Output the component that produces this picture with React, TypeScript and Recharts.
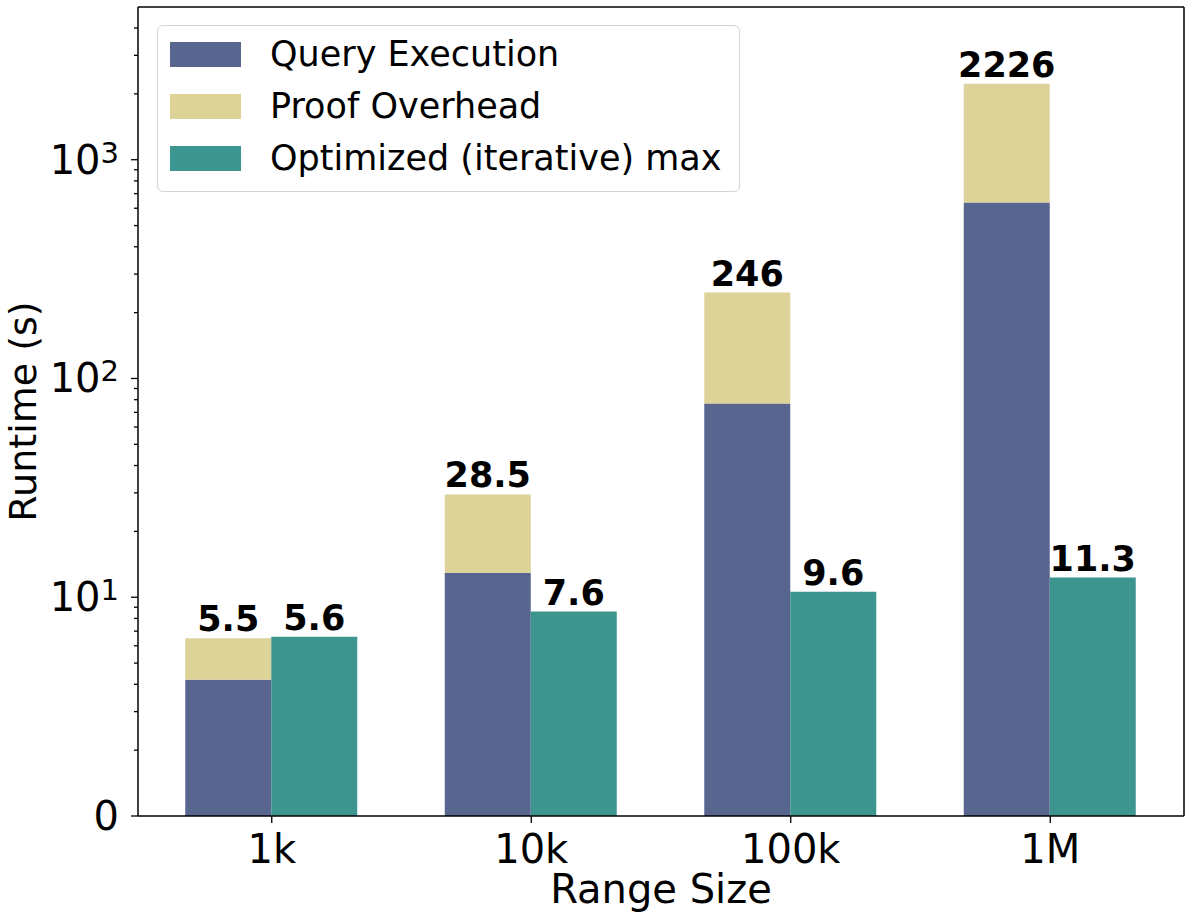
import React from "react";
import { BarChart, Bar, XAxis, YAxis, Legend, LabelList, Label } from "recharts";

// Runtime per range size, in seconds
const rangeSizes = ["1k", "10k", "100k", "1M"];
const queryExecution = [3.2, 11.9, 75.9, 637];
const totalWithProof = [5.5, 28.5, 246, 2226];
const optimizedMax = [5.6, 7.6, 9.6, 11.3];

// y axis is log(runtime + 1): the floor tick at 1 reads as 0
const majorTicks = [1, 10, 100, 1000];
const minorTicks = [2, 3, 4, 5, 6, 7, 8, 9, 20, 30, 40, 50, 60, 70, 80, 90, 200, 300, 400, 500, 600, 700, 800, 900, 2000, 3000, 4000];

const FONT = "'DejaVu Sans', sans-serif";
const QUERY_COLOR = "#58658f";
const PROOF_COLOR = "#ddd298";
const OPT_COLOR = "#3d9590";

const legendItems = [
  { name: "Query Execution", color: QUERY_COLOR },
  { name: "Proof Overhead", color: PROOF_COLOR },
  { name: "Optimized (iterative) max", color: OPT_COLOR },
];

type Row = { size: string; query: number; total: number; optimized: number };

const data: Row[] = rangeSizes.map((size, i) => ({
  size,
  query: queryExecution[i],
  total: totalWithProof[i],
  optimized: optimizedMax[i],
}));

function RuntimeTick(props: any) {
  const { x, y, payload } = props;
  const v = payload.value as number;
  const major = majorTicks.includes(v);
  const exp = Math.round(Math.log10(v));
  return (
    <g>
      <line x1={x - (major ? 7 : 4)} x2={x} y1={y} y2={y} stroke="#000" strokeWidth={1.3} />
      {major && (
        <text x={x - 19} y={y + 14} textAnchor="end" fontSize={40} fontFamily={FONT} fill="#000">
          {exp === 0 ? (
            "0"
          ) : (
            <>
              <tspan>10</tspan>
              <tspan dy={-11} fontSize={29}>
                {exp}
              </tspan>
            </>
          )}
        </text>
      )}
    </g>
  );
}

function SizeTick(props: any) {
  const { x, y, payload } = props;
  return (
    <text x={x} y={y + 40} textAnchor="middle" fontSize={40} fontFamily={FONT} fill="#000">
      {payload.value}
    </text>
  );
}

function RuntimeLabel(props: any) {
  const { x, y, height } = props.viewBox;
  const cx = x + 36;
  const cy = y + height / 2;
  return (
    <text
      x={cx}
      y={cy}
      transform={`rotate(-90 ${cx} ${cy})`}
      textAnchor="middle"
      fontSize={38}
      fontFamily={FONT}
      fill="#000"
    >
      Runtime (s)
    </text>
  );
}

function SizeLabel(props: any) {
  const { x, y, width, height } = props.viewBox;
  return (
    <text x={x + width / 2} y={y + height - 17} textAnchor="middle" fontSize={40} fontFamily={FONT} fill="#000">
      Range Size
    </text>
  );
}

function LegendBox() {
  return (
    <div
      style={{
        boxSizing: "border-box",
        width: 583,
        height: 167,
        border: "1.5px solid #d4d4d4",
        borderRadius: 6,
        background: "rgba(255,255,255,0.8)",
        paddingTop: 2,
        paddingLeft: 12,
        fontFamily: FONT,
        fontSize: 35,
        color: "#000",
      }}
    >
      {legendItems.map((it) => (
        <div key={it.name} style={{ display: "flex", alignItems: "center", height: 52 }}>
          <span style={{ display: "inline-block", width: 71, height: 25, background: it.color, marginRight: 29 }} />
          <span style={{ lineHeight: "52px" }}>{it.name}</span>
        </div>
      ))}
    </div>
  );
}

const labelStyle = { fontSize: 35, fontWeight: 700, fontFamily: FONT, fill: "#000" };

export default function App() {
  return (
    <div style={{ position: "absolute", left: 0, top: 0, background: "#fff" }}>
      <BarChart
        width={1192}
        height={920}
        data={data}
        margin={{ top: 6, right: 7, left: 0, bottom: 0 }}
        barGap={0}
        barCategoryGap="16.67%"
      >
        <XAxis
          dataKey="size"
          height={104}
          padding={{ left: 4, right: 4 }}
          tick={<SizeTick />}
          tickSize={7}
          tickMargin={0}
          tickLine={{ stroke: "#000", strokeWidth: 1.3 }}
          axisLine={{ stroke: "#000", strokeWidth: 1.5 }}
        >
          <Label content={SizeLabel} />
        </XAxis>
        {/* top and right spines close the frame */}
        <XAxis
          xAxisId="frame"
          orientation="top"
          dataKey="size"
          height={1}
          tick={false}
          tickLine={false}
          axisLine={{ stroke: "#000", strokeWidth: 1.5 }}
        />
        <YAxis
          scale="log"
          type="number"
          domain={[1, 4990]}
          allowDataOverflow
          ticks={[...majorTicks, ...minorTicks]}
          interval={0}
          width={138}
          tick={<RuntimeTick />}
          tickSize={0}
          tickMargin={0}
          tickLine={false}
          axisLine={{ stroke: "#000", strokeWidth: 1.5 }}
        >
          <Label content={RuntimeLabel} />
        </YAxis>
        <YAxis
          yAxisId="frame"
          orientation="right"
          width={1}
          domain={[0, 1]}
          tick={false}
          tickLine={false}
          axisLine={{ stroke: "#000", strokeWidth: 1.5 }}
        />
        <Legend
          layout="vertical"
          align="center"
          verticalAlign="middle"
          wrapperStyle={{ left: 157, top: 25, width: 583, height: 167 }}
          content={() => <LegendBox />}
        />
        <Bar
          name="Query Execution"
          stackId="proof"
          dataKey={(d: Row) => d.query + 1}
          fill={QUERY_COLOR}
          isAnimationActive={false}
        />
        <Bar
          name="Proof Overhead"
          stackId="proof"
          dataKey={(d: Row) => d.total - d.query}
          fill={PROOF_COLOR}
          isAnimationActive={false}
        >
          <LabelList dataKey="total" position="top" offset={7} style={labelStyle} />
        </Bar>
        <Bar
          name="Optimized (iterative) max"
          stackId="opt"
          dataKey={(d: Row) => d.optimized + 1}
          fill={OPT_COLOR}
          isAnimationActive={false}
        >
          <LabelList dataKey="optimized" position="top" offset={7} style={labelStyle} />
        </Bar>
      </BarChart>
    </div>
  );
}
